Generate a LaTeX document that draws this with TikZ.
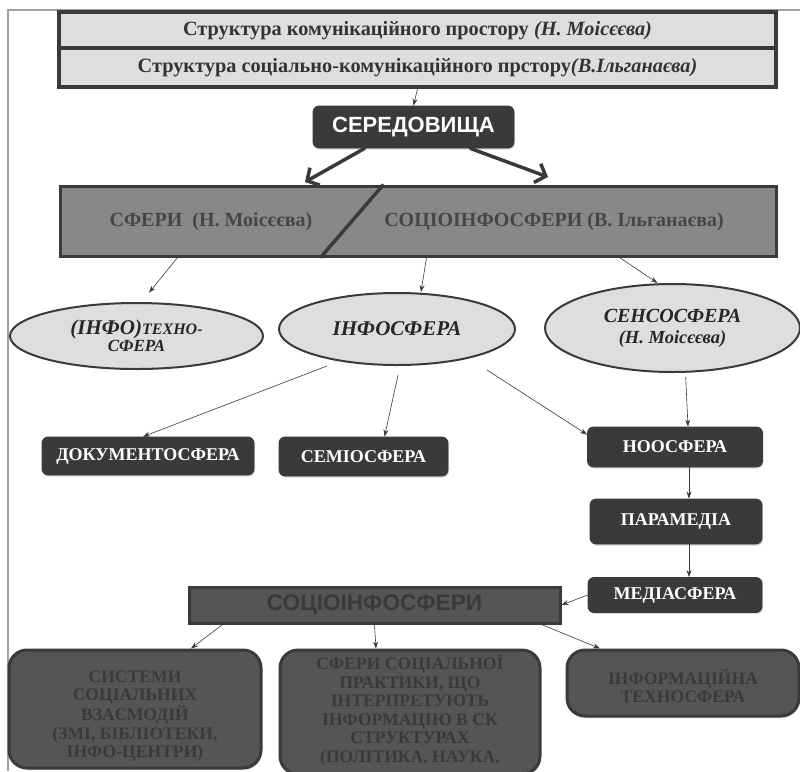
\documentclass[tikz,border=0pt]{standalone}
\usepackage{fontspec}
\setmainfont{Liberation Serif}
\newfontfamily\headsans{Liberation Sans}
\usetikzlibrary{shapes.geometric,arrows.meta,shadows}

\definecolor{edgegray}{HTML}{3A3A3A}
\definecolor{palefill}{HTML}{DEDEDE}
\definecolor{titletext}{HTML}{333333}
\definecolor{darkfill}{HTML}{3A3A3A}
\definecolor{bandfill}{HTML}{888888}
\definecolor{bandtext}{HTML}{464646}
\definecolor{lowfill}{HTML}{555555}
\definecolor{lowtext}{HTML}{3A3A3A}
\definecolor{framegray}{HTML}{A0A0A0}

\tikzset{
    titlebox/.style={draw=edgegray, line width=3.5pt, fill=palefill, minimum width=717pt, minimum height=37pt, inner sep=0pt, text=titletext, font=\bfseries\fontsize{20.3}{22}\selectfont},
    darkbox/.style={draw=edgegray, line width=0.8pt, fill=darkfill, rounded corners=6pt, text=white, inner sep=0pt, font=\bfseries\fontsize{18}{20}\selectfont, drop shadow={shadow xshift=1pt, shadow yshift=-1.5pt, opacity=0.3}},
    sphere/.style={ellipse, draw=edgegray, line width=2pt, fill=palefill, inner sep=0pt, align=center, text=black!85},
    bandlabel/.style={text=bandtext, inner sep=0pt, font=\bfseries\fontsize{20}{22}\selectfont},
    lowbox/.style={draw=edgegray, line width=3pt, fill=lowfill, rounded corners=18pt, inner sep=0pt, drop shadow={shadow xshift=1pt, shadow yshift=-2pt, opacity=0.3}},
    lowlabel/.style={text=lowtext, align=center, inner sep=0pt, font=\bfseries\fontsize{17.6}{18.5}\selectfont},
    arr/.style={-{Stealth[length=7pt,width=5pt]}, line width=0.6pt, edgegray},
    bigarr/.style={-{Straight Barb[length=9pt,width=20pt]}, line width=3.5pt, edgegray, line cap=round}
}

\begin{document}
\begin{tikzpicture}[x=1pt, y=-1pt]
    \useasboundingbox (0,0) rectangle (800,771);
    \clip (0,0) rectangle (800,771);
    \draw[framegray, line width=1.4pt] (8,771) -- (8,10) -- (800,10);

    \node[titlebox] (struct1) at (417.5,30.5) {Структура комунікаційного простору \textit{(Н. Моісєєва)}};
    \node[titlebox, minimum height=39pt] (struct2) at (417.5,67.5) {Структура соціально-комунікаційного прстору\textit{(В.Ільганаєва)}};
    \node[darkbox, minimum width=201pt, minimum height=42pt, font=\headsans\bfseries\fontsize{22}{24}\selectfont] (sered) at (413.5,127) {СЕРЕДОВИЩА};
    \draw[arr] (struct2.south) -- (sered.north);

    \node[draw=edgegray, line width=3pt, fill=bandfill, minimum width=716pt, minimum height=70pt] (band) at (418,221) {};
    \draw[edgegray, line width=3.5pt] ([xshift=325pt]band.north west) -- ([xshift=262pt]band.south west);
    \node[bandlabel] (sferN) at (211,222) {СФЕРИ~~(Н. Моісєєва)};
    \node[bandlabel] (socioV) at (554,222) {СОЦІОІНФОСФЕРИ (В. Ільганаєва)};
    \coordinate (sferL) at (305,182);
    \coordinate (sferR) at (548,177);
    \draw[bigarr] ([xshift=52pt]sered.south west) -- (sferL);
    \draw[bigarr] ([xshift=-44pt]sered.south east) -- (sferR);

    \node[sphere, minimum width=253pt, minimum height=66pt, font=\bfseries\itshape\fontsize{17}{17}\selectfont] (techno) at (136.5,336) {{\fontsize{21}{17}\selectfont(ІНФО)}{\fontsize{16}{17}\selectfont ТЕХНО-}\\СФЕРА};
    \node[sphere, minimum width=236pt, minimum height=72pt, font=\bfseries\itshape\fontsize{21}{22}\selectfont] (info) at (397,329) {ІНФОСФЕРА};
    \node[sphere, minimum width=255pt, minimum height=88pt, font=\bfseries\itshape\fontsize{20}{21}\selectfont] (senso) at (672.5,328) {СЕНСОСФЕРА\\{\fontsize{18.5}{21}\selectfont(Н. Моісєєва)}};
    \draw[arr, shorten >=12pt] ([xshift=119pt]band.south west) -- ([xshift=5pt]techno.north);
    \draw[arr] ([xshift=368pt]band.south west) -- ([xshift=24pt]info.north);
    \draw[arr] ([xshift=561pt]band.south west) -- ([xshift=-15pt]senso.north);

    \node[darkbox, minimum width=212pt, minimum height=38pt] (docum) at (148,456) {ДОКУМЕНТОСФЕРА};
    \node[darkbox, minimum width=169pt, minimum height=39pt] (semio) at (363.5,456.5) {СЕМІОСФЕРА};
    \node[darkbox, minimum width=175pt, minimum height=40pt] (noos) at (675,447) {НООСФЕРА};
    \node[darkbox, minimum width=172pt, minimum height=45pt] (param) at (676,521.5) {ПАРАМЕДІА};
    \node[darkbox, minimum width=174pt, minimum height=35pt] (media) at (675,595) {МЕДІАСФЕРА};
    \draw[arr] ([xshift=-70pt]info.south) -- ([xshift=-5pt]docum.north);
    \draw[arr, shorten <=9pt] ([xshift=3pt]info.south) -- ([xshift=21pt]semio.north);
    \draw[arr] ([xshift=90pt,yshift=-4pt]info.south) -- ([yshift=-8pt]noos.north west);
    \draw[arr, shorten <=4pt] ([xshift=13pt]senso.south) -- ([xshift=13pt]noos.north);
    \draw[arr] ([xshift=14pt]noos.south) -- ([xshift=13pt]param.north);
    \draw[arr] ([xshift=13pt]param.south) -- ([xshift=14pt]media.north);

    \node[draw=edgegray, line width=3pt, fill=lowfill, minimum width=371pt, minimum height=36pt, text=lowtext, font=\headsans\bfseries\fontsize{22.6}{24}\selectfont] (socio) at (374.5,605) {СОЦІОІНФОСФЕРИ};
    \draw[arr] (media.west) -- (socio.east);

    \node[lowbox, minimum width=252pt, minimum height=118pt] (social) at (135,709) {};
    \node[lowbox, minimum width=260pt, minimum height=124pt] (practice) at (410,712) {};
    \node[lowbox, minimum width=232pt, minimum height=66pt] (infotech) at (683,683) {};
    \node[lowlabel] (socialtxt) at (135,716) {СИСТЕМИ\\СОЦІАЛЬНИХ\\ВЗАЄМОДІЙ\\(ЗМІ, БІБЛІОТЕКИ,\\ІНФО-ЦЕНТРИ)};
    \node[lowlabel] (practicetxt) at (410,710.5) {СФЕРИ СОЦІАЛЬНОЇ\\ПРАКТИКИ, ЩО\\ІНТЕРПРЕТУЮТЬ\\ІНФОРМАЦІЮ В СК\\СТРУКТУРАХ\\(ПОЛІТИКА. НАУКА.};
    \node[lowlabel] (infotechtxt) at (683,686) {ІНФОРМАЦІЙНА\\ТЕХНОСФЕРА};
    \draw[arr] ([xshift=-152pt]socio.south) -- ([xshift=56pt]social.north);
    \draw[arr] (socio.south) -- ([xshift=-34pt]practice.north);
    \draw[arr] ([xshift=167pt]socio.south) -- ([xshift=-83pt]infotech.north);
\end{tikzpicture}
\end{document}
